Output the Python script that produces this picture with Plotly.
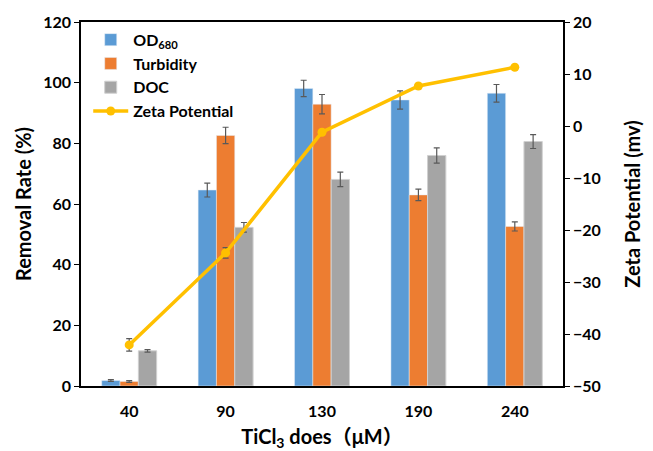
import plotly.graph_objects as go

categories = ["40", "90", "130", "190", "240"]
od680 = [1.8, 64.6, 98.1, 94.3, 96.5]
od680_err = [0.3, 2.3, 2.7, 3.0, 2.9]
turbidity = [1.5, 82.6, 92.9, 63.0, 52.6]
turbidity_err = [0.3, 2.7, 3.2, 1.9, 1.5]
doc = [11.6, 52.3, 68.1, 76.0, 80.6]
doc_err = [0.4, 1.6, 2.4, 2.5, 2.3]
zeta = [-42.1, -24.4, -1.2, 7.7, 11.3]
zeta_err = [1.2, 1.0, 0.0, 0.0, 0.0]

FONT = "Lato, 'Noto Sans CJK SC', sans-serif"
err_style = dict(type="data", thickness=1.2, width=3, color="#595959")

fig = go.Figure()
fig.add_trace(go.Bar(x=categories, y=od680, name="<b>OD<sub>680</sub></b>",
                     marker=dict(color="#5B9BD5"),
                     error_y=dict(array=od680_err, **err_style)))
fig.add_trace(go.Bar(x=categories, y=turbidity, name="<b>Turbidity</b>",
                     marker=dict(color="#ED7D31"),
                     error_y=dict(array=turbidity_err, **err_style)))
fig.add_trace(go.Bar(x=categories, y=doc, name="<b>DOC</b>",
                     marker=dict(color="#A5A5A5", line=dict(color="#D0D0D0", width=1)),
                     error_y=dict(array=doc_err, **err_style)))
fig.add_trace(go.Scatter(x=categories, y=zeta, name="<b>Zeta Potential</b>", yaxis="y2",
                         mode="lines+markers",
                         line=dict(color="#FFC000", width=3.5),
                         marker=dict(color="#FFC000", size=9),
                         error_y=dict(array=zeta_err, **err_style)))

fig.update_layout(
    width=645, height=443,
    margin=dict(l=73, r=90, t=14, b=65),
    paper_bgcolor="white", plot_bgcolor="white",
    barmode="group", bargap=0.43, bargroupgap=0,
    font=dict(family=FONT, size=16, color="black"),
    showlegend=True,
    legend=dict(x=0.015, y=0.998, xanchor="left", yanchor="top",
                bgcolor="rgba(0,0,0,0)", font=dict(size=16, family=FONT),
                tracegroupgap=0, itemwidth=35),
    xaxis=dict(type="category", showline=True, linecolor="black", linewidth=1.5,
               mirror=True, ticks="outside", ticklen=10, tickcolor="rgba(0,0,0,0)", showgrid=False,
               automargin=False,
               tickprefix="<b>", ticksuffix="</b>",
               tickfont=dict(size=16, family=FONT),
               title=dict(text="<b>TiCl<sub>3</sub> does（μM）</b>", font=dict(size=20, family=FONT), standoff=15)),
    yaxis=dict(range=[0, 120], dtick=20, showline=True, linecolor="black", linewidth=1.5,
               ticks="outside", ticklen=5, tickcolor="black", showgrid=False, zeroline=False,
               automargin=False,
               tickprefix="<b>", ticksuffix="</b>",
               tickfont=dict(size=16, family=FONT),
               title=dict(text="<b>Removal Rate (%)</b>", font=dict(size=20, family=FONT), standoff=6)),
    yaxis2=dict(range=[-50, 20], dtick=10, overlaying="y", side="right", showline=True,
                linecolor="black", linewidth=1.5, ticks="outside", ticklen=5, tickcolor="black",
                showgrid=False, zeroline=False, automargin=False,
                tickprefix="<b>", ticksuffix="</b>",
                tickfont=dict(size=16, family=FONT),
                title=dict(text="<b>Zeta Potential (mv)</b>", font=dict(size=20, family=FONT), standoff=26)),
)

fig.write_html("out.html")
